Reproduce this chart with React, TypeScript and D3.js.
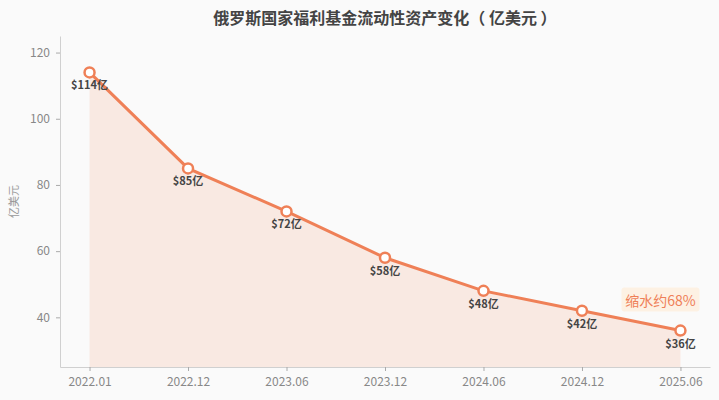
import React, { useEffect, useMemo, useRef } from "react";
import * as d3 from "d3";

const WIDTH = 719;
const HEIGHT = 400;
const MARGIN = { top: 36, right: 9, bottom: 33, left: 60 };

const periods = ["2022.01", "2022.12", "2023.06", "2023.12", "2024.06", "2024.12", "2025.06"];
const liquidAssets = [114, 85, 72, 58, 48, 42, 36];
const valueLabels = ["$114亿", "$85亿", "$72亿", "$58亿", "$48亿", "$42亿", "$36亿"];
const yTicks = [40, 60, 80, 100, 120];

const TITLE = "俄罗斯国家福利基金流动性资产变化（ 亿美元 ）";
const Y_LABEL = "亿美元";
const NOTE = "缩水约68%";

const LINE_COLOR = "#ef8057";
const FONT = "'Noto Sans CJK SC', 'Noto Sans', sans-serif";

const App = () => {
  const xAxisRef = useRef<SVGGElement>(null);
  const yAxisRef = useRef<SVGGElement>(null);
  const boundsWidth = WIDTH - MARGIN.left - MARGIN.right;
  const boundsHeight = HEIGHT - MARGIN.top - MARGIN.bottom;

  const xScale = useMemo(
    () => d3.scalePoint<string>().domain(periods).range([0, boundsWidth]).padding(0.3),
    [boundsWidth]
  );
  const yScale = useMemo(
    () => d3.scaleLinear().domain([25, 125]).range([boundsHeight, 0]),
    [boundsHeight]
  );

  const data = periods.map((p, i) => ({ p, v: liquidAssets[i], label: valueLabels[i] }));

  const linePath = d3
    .line<{ p: string; v: number }>()
    .x((d) => xScale(d.p) as number)
    .y((d) => yScale(d.v))(data);
  const areaPath = d3
    .area<{ p: string; v: number }>()
    .x((d) => xScale(d.p) as number)
    .y0(boundsHeight)
    .y1((d) => yScale(d.v))(data);

  useEffect(() => {
    const styleAxis = (g: d3.Selection<SVGGElement, unknown, null, undefined>) => {
      g.select(".domain").attr("stroke", "#d0d0d0");
      g.selectAll(".tick line").attr("stroke", "#aaa");
      g.selectAll(".tick text")
        .attr("fill", "#888")
        .style("font-size", "12px")
        .style("font-family", FONT);
    };
    const xg = d3.select(xAxisRef.current!);
    xg.selectAll("*").remove();
    xg.call(d3.axisBottom(xScale).tickSize(4).tickSizeOuter(0).tickPadding(6));
    styleAxis(xg);
    const yg = d3.select(yAxisRef.current!);
    yg.selectAll("*").remove();
    yg.call(d3.axisLeft(yScale).tickValues(yTicks).tickSize(4).tickSizeOuter(0).tickPadding(6));
    styleAxis(yg);
  }, [xScale, yScale]);

  const last = data[data.length - 1];
  const noteX = (xScale(last.p) as number) - 20;
  const noteY = yScale(last.v) - 30;

  return (
    <svg width={WIDTH} height={HEIGHT} style={{ position: "absolute", left: 0, top: 0, background: "#fafafa" }}>
      <text x={385} y={24} textAnchor="middle" fontFamily={FONT} fontSize={16} fontWeight="bold" fill="#444">
        {TITLE}
      </text>
      <text
        transform={`translate(18,${MARGIN.top + boundsHeight / 2}) rotate(-90)`}
        textAnchor="middle"
        fontFamily={FONT}
        fontSize={11}
        fill="#999"
      >
        {Y_LABEL}
      </text>
      <g transform={`translate(${MARGIN.left},${MARGIN.top})`}>
        <path d={areaPath ?? ""} fill="#f9ddd2" opacity={0.6} />
        <path d={linePath ?? ""} fill="none" stroke={LINE_COLOR} strokeWidth={3} />
        {data.map((d) => (
          <g key={d.p}>
            <circle cx={xScale(d.p)} cy={yScale(d.v)} r={5} fill="#fff" stroke={LINE_COLOR} strokeWidth={2.5} />
            <text
              x={xScale(d.p)}
              y={yScale(d.v) + 17}
              textAnchor="middle"
              fontFamily={FONT}
              fontSize={11}
              fontWeight="bold"
              fill="#444"
            >
              {d.label}
            </text>
          </g>
        ))}
        <rect x={noteX - 39} y={noteY - 13} width={78} height={24} rx={3} fill="#fdf1e3" />
        <text x={noteX} y={noteY + 5} textAnchor="middle" fontFamily={FONT} fontSize={14} fill={LINE_COLOR}>
          {NOTE}
        </text>
        <g ref={xAxisRef} transform={`translate(0,${boundsHeight})`} />
        <g ref={yAxisRef} />
      </g>
    </svg>
  );
};

export default App;
